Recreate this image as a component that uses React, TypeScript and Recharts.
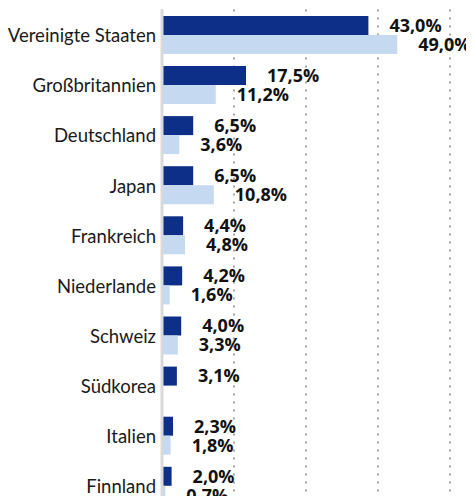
import React from 'react';
import { BarChart, Bar, XAxis, YAxis, CartesianGrid, LabelList } from 'recharts';

const categories = ['Vereinigte Staaten', 'Großbritannien', 'Deutschland', 'Japan', 'Frankreich', 'Niederlande', 'Schweiz', 'Südkorea', 'Italien', 'Finnland'];
const seriesA = [43.0, 17.5, 6.5, 6.5, 4.4, 4.2, 4.0, 3.1, 2.3, 2.0];
const seriesB: (number | null)[] = [49.0, 11.2, 3.6, 10.8, 4.8, 1.6, 3.3, null, 1.8, 0.7];
const xTicks = [15, 30, 45, 60];

const data = categories.map((name, i) => ({ name, a: seriesA[i], b: seriesB[i] }));

const fmt = (v: any) => (v === null || v === undefined ? '' : `${Number(v).toFixed(1).replace('.', ',')}%`);

const CAT_FONT = 'Lato, "Open Sans", sans-serif';
const VAL_FONT = '"Open Sans", Lato, sans-serif';

export default function App() {
  return (
    <div style={{ margin: -8, width: 474, height: 504, overflow: 'hidden', background: '#fff' }}>
      <BarChart
        width={474}
        height={512}
        data={data}
        layout="vertical"
        margin={{ top: 9.6, right: 0, bottom: 1.4, left: 0 }}
        barCategoryGap={6.3}
        barGap={0}
      >
        <CartesianGrid horizontal={false} vertical={true} stroke="#a6a6a6" strokeWidth={2} strokeDasharray="2 6" />
        <XAxis type="number" domain={[0, 65]} ticks={xTicks} hide />
        <YAxis
          type="category"
          dataKey="name"
          width={162}
          tickSize={0}
          tickMargin={6}
          axisLine={{ stroke: '#d9d9d9', strokeWidth: 3 }}
          tick={{ fill: '#1a1a1a', fontSize: 18.5, fontFamily: CAT_FONT, dy: 1 }}
          interval={0}
        />
        <Bar dataKey="a" fill="#0d2f87" isAnimationActive={false}>
          <LabelList dataKey="a" position="right" offset={21} formatter={fmt} fill="#111" fontSize={18} fontWeight="bold" fontFamily={VAL_FONT} />
        </Bar>
        <Bar dataKey="b" fill="#c5d9f1" isAnimationActive={false}>
          <LabelList dataKey="b" position="right" offset={21} formatter={fmt} fill="#111" fontSize={18} fontWeight="bold" fontFamily={VAL_FONT} />
        </Bar>
      </BarChart>
    </div>
  );
}
